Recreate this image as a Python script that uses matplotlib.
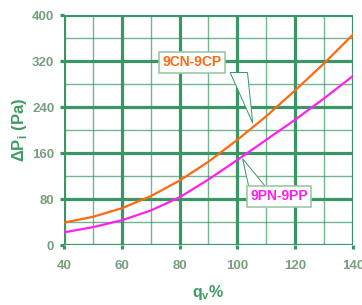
import matplotlib
matplotlib.use("Agg")
import matplotlib.pyplot as plt
from matplotlib.patches import Polygon

# ===== data =====
qv = [40, 50, 60, 70, 80, 90, 100, 110, 120, 130, 140]
dp_9cn = [39, 49, 64, 85, 112, 145, 183, 224, 269, 316, 366]
dp_9pn = [22, 31, 43, 60, 83, 114, 148, 183, 218, 255, 294]

x_ticks = [40, 60, 80, 100, 120, 140]
y_ticks = [0, 80, 160, 240, 320, 400]
label_9cn = "9CN-9CP"
label_9pn = "9PN-9PP"

# ===== styles =====
GRID = "#3a9664"
TICKC = "#7a9e80"
LABC = "#3f9c62"
ORANGE = "#ff6a10"
MAGENTA = "#ff22ee"
plt.rcParams['font.family'] = ['Liberation Sans Narrow', 'Liberation Sans', 'DejaVu Sans']

fig = plt.figure(figsize=(3.62, 3.05), dpi=100)
ax = fig.add_axes([0.1768, 0.1967, 0.7983, 0.7541])
ax.set_xlim(40, 140)
ax.set_ylim(0, 400)

# grid: thin minor, thick major
for x in range(50, 140, 20):
    ax.axvline(x, color=GRID, lw=1.0, alpha=0.7, zorder=1)
for y in range(40, 400, 80):
    ax.axhline(y, color=GRID, lw=1.0, alpha=0.7, zorder=1)
for x in x_ticks:
    ax.axvline(x, color=GRID, lw=2.3, zorder=1)
for y in y_ticks:
    ax.axhline(y, color=GRID, lw=2.3, zorder=1)

for s in ax.spines.values():
    s.set_visible(False)

ax.plot(qv, dp_9cn, color=ORANGE, lw=1.6, zorder=3)
ax.plot(qv, dp_9pn, color=MAGENTA, lw=1.6, zorder=3)

ax.set_xticks(x_ticks)
ax.set_yticks(y_ticks)
ax.tick_params(axis='both', colors=GRID, width=2.3, length=3, labelcolor=TICKC,
               labelsize=9.5)
for t in ax.get_xticklabels() + ax.get_yticklabels():
    t.set_fontweight('bold')
ax.tick_params(axis='x', pad=8)
ax.tick_params(axis='y', pad=4)

ax.set_xlabel(r"q$_\mathregular{v}$%", color=LABC, fontsize=11.5, fontweight='bold', labelpad=8)
ax.set_ylabel(r"ΔP$_\mathregular{i}$ (Pa)", color=LABC, fontsize=12, fontweight='bold', labelpad=2)

# callouts
pointer_9cn = [(97.5, 300), (103.5, 300), (105.3, 212)]
pointer_9pn = [(104.0, 100), (110.0, 100), (101.8, 150)]
for pts in (pointer_9cn, pointer_9pn):
    ax.add_patch(Polygon(pts, closed=True, facecolor='white', edgecolor=GRID,
                         lw=0.7, zorder=4))

box = dict(boxstyle='square,pad=0.25', facecolor='white', edgecolor='#9cc8a8', lw=1.2)
ax.text(84.2, 318, label_9cn, color=ORANGE, fontsize=10, fontweight='bold',
        ha='center', va='center', bbox=box, zorder=5)
ax.text(114.4, 85, label_9pn, color=MAGENTA, fontsize=10, fontweight='bold',
        ha='center', va='center', bbox=box, zorder=5)

fig.savefig("out.png", dpi=100)
plt.close()
